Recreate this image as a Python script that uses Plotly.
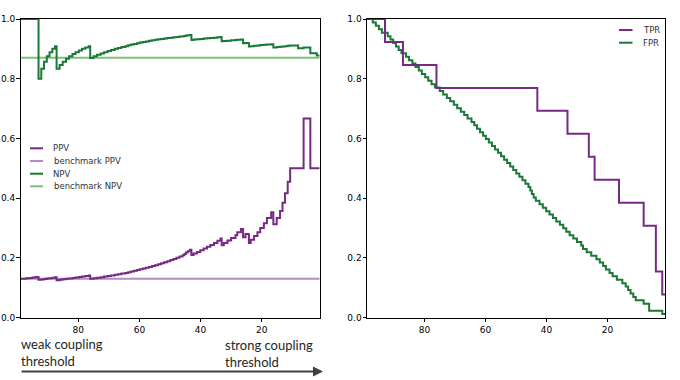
import plotly.graph_objects as go

# ---------------- data ----------------
n_pos = 13          # true couplings
n_neg = 87          # non-couplings
x_first = 99.0      # weakest threshold shown
x_last = 1.0        # strongest threshold shown

# thresholds at which a true positive drops out (TPR steps)
tp_drop_x = [93.0, 87.1, 76.1, 43.0, 33.1, 26.1, 24.2, 16.2, 8.1, 4.1, 4.1, 2.0]

# thresholds at which a false positive drops out (FPR steps)
fp_drop_x = [97.0, 96.0, 95.0, 94.0, 92.1, 91.2, 90.3, 89.4, 88.5, 87.6,
             86.1, 85.1, 84.0, 83.0, 81.9, 80.9, 79.8, 78.8, 77.7, 76.6,
             75.0, 73.9, 72.7, 71.6, 70.4, 69.3, 68.1, 67.0, 65.9, 64.6,
             63.7, 62.8, 61.8, 60.8, 59.9, 58.9, 57.9, 56.9, 55.9, 54.9,
             53.9, 52.9, 51.9, 50.9, 49.9, 48.9, 47.9, 46.9, 45.9, 45.3,
             44.8, 44.2, 43.5, 42.3, 41.2, 40.1, 39.0, 37.9, 36.8, 35.6,
             34.5, 33.5, 32.4, 31.2, 30.0, 28.6, 28.0, 26.8, 25.3, 23.6,
             22.5, 21.4, 20.5, 19.3, 18.3, 16.9, 15.1, 14.0, 13.2, 12.4,
             11.5, 10.7, 8.1, 6.3, 6.3, 2.0]

benchmark_ppv = 0.13
benchmark_npv = 0.87

x_tick_vals = [80, 60, 40, 20]
y_tick_vals = [0.0, 0.2, 0.4, 0.6, 0.8, 1.0]

left_legend = ["PPV", "benchmark PPV", "NPV", "benchmark NPV"]
right_legend = ["TPR", "FPR"]
left_caption = "weak coupling<br>threshold"
right_caption = "strong coupling<br>threshold"

# ---------------- derived step series ----------------
xs = sorted(set([x_first] + tp_drop_x + fp_drop_x + [x_last]), reverse=True)
tpr, fpr, ppv, npv = [], [], [], []
for x in xs:
    tp = n_pos - sum(1 for t in tp_drop_x if t >= x)
    fp = n_neg - sum(1 for t in fp_drop_x if t >= x)
    tn = n_neg - fp
    fn = n_pos - tp
    tpr.append(tp / n_pos)
    fpr.append(fp / n_neg)
    ppv.append(tp / (tp + fp) if tp + fp > 0 else 0.0)
    npv.append(tn / (tn + fn) if tn + fn > 0 else 1.0)

# ---------------- styling ----------------
W, H = 680, 380
PURPLE = "#762a83"
LPURPLE = "#af8dc3"
GREEN = "#1b7837"
LGREEN = "#7fbf7b"
TICKFONT = dict(family="DejaVu Sans", size=9, color="black")


def fx(p):
    return p / W


def fy(p):
    return 1 - p / H


fig = go.Figure()

# left panel
fig.add_trace(go.Scatter(x=[x_first, x_last], y=[benchmark_ppv] * 2, mode="lines",
                         line=dict(color=LPURPLE, width=2), xaxis="x", yaxis="y",
                         name=left_legend[1]))
fig.add_trace(go.Scatter(x=[x_first, x_last], y=[benchmark_npv] * 2, mode="lines",
                         line=dict(color=LGREEN, width=2), xaxis="x", yaxis="y",
                         name=left_legend[3]))
fig.add_trace(go.Scatter(x=xs, y=ppv, mode="lines", line_shape="hv",
                         line=dict(color=PURPLE, width=2), xaxis="x", yaxis="y",
                         name=left_legend[0]))
fig.add_trace(go.Scatter(x=xs, y=npv, mode="lines", line_shape="hv",
                         line=dict(color=GREEN, width=2), xaxis="x", yaxis="y",
                         name=left_legend[2]))

# right panel
fig.add_trace(go.Scatter(x=xs, y=fpr, mode="lines", line_shape="hv",
                         line=dict(color=GREEN, width=2), xaxis="x2", yaxis="y2",
                         name=right_legend[1]))
fig.add_trace(go.Scatter(x=xs, y=tpr, mode="lines", line_shape="hv",
                         line=dict(color=PURPLE, width=2), xaxis="x2", yaxis="y2",
                         name=right_legend[0]))

common_x = dict(range=[98.9, 1.1], tickvals=x_tick_vals, ticks="outside", ticklen=3.5,
                tickwidth=1, tickcolor="black", showline=True, linecolor="black",
                linewidth=1, mirror=True, showgrid=False, zeroline=False,
                tickfont=TICKFONT, fixedrange=True, automargin=False)
common_y = dict(range=[0, 1], tickvals=y_tick_vals, tickformat=".1f", ticks="outside",
                ticklen=3.5, tickwidth=1, tickcolor="black", showline=True,
                linecolor="black", linewidth=1, mirror=True, showgrid=False,
                zeroline=False, tickfont=TICKFONT, fixedrange=True, automargin=False,
                ticklabelstandoff=-1, domain=[fy(317.5), fy(19)])

fig.update_layout(
    width=W, height=H,
    margin=dict(l=0, r=0, t=0, b=0),
    paper_bgcolor="white", plot_bgcolor="white",
    showlegend=False,
    hovermode=False,
    xaxis=dict(domain=[fx(20.5), fx(319.5)], anchor="y", **common_x),
    yaxis=dict(anchor="x", **common_y),
    xaxis2=dict(domain=[fx(367), fx(665)], anchor="y2", **common_x),
    yaxis2=dict(anchor="x2", **common_y),
)

shapes = []
annotations = []
LEGFONT = dict(family="DejaVu Sans", size=8.5, color="#333333")

# manual legend, left panel
left_colors = [PURPLE, LPURPLE, GREEN, LGREEN]
left_rows = [148.3, 161.0, 173.7, 186.3]
for name, col, yy in zip(left_legend, left_colors, left_rows):
    shapes.append(dict(type="line", xref="paper", yref="paper", x0=fx(30), x1=fx(43),
                       y0=fy(yy), y1=fy(yy), line=dict(color=col, width=2)))
    annotations.append(dict(xref="paper", yref="paper", x=fx(51.5), y=fy(yy), text=name,
                            showarrow=False, xanchor="left", yanchor="middle",
                            font=LEGFONT))

# manual legend, right panel
right_colors = [PURPLE, GREEN]
right_rows = [30.0, 42.7]
for name, col, yy in zip(right_legend, right_colors, right_rows):
    shapes.append(dict(type="line", xref="paper", yref="paper", x0=fx(619), x1=fx(632.5),
                       y0=fy(yy), y1=fy(yy), line=dict(color=col, width=2)))
    annotations.append(dict(xref="paper", yref="paper", x=fx(640.5), y=fy(yy), text=name,
                            showarrow=False, xanchor="left", yanchor="middle",
                            font=LEGFONT))

# captions under the left panel
CAPFONT = dict(family="Lato", size=13, color="#262626")
annotations.append(dict(xref="paper", yref="paper", x=fx(19), y=fy(352.5),
                        text=left_caption, showarrow=False, xanchor="left",
                        yanchor="middle", align="left", font=CAPFONT))
annotations.append(dict(xref="paper", yref="paper", x=fx(222.5), y=fy(353.5),
                        text=right_caption, showarrow=False, xanchor="left",
                        yanchor="middle", align="left", font=CAPFONT))

# arrow
annotations.append(dict(xref="paper", yref="paper", x=fx(323), y=fy(371.5),
                        axref="pixel", ayref="pixel", ax=-303, ay=0, text="",
                        showarrow=True, arrowhead=2, arrowsize=1, arrowwidth=2,
                        arrowcolor="#404040"))

fig.update_layout(shapes=shapes, annotations=annotations)
fig.write_html("out.html",
               config={"displayModeBar": False, "staticPlot": True},
               post_script="document.body.style.margin='0';document.body.style.padding='0';")
